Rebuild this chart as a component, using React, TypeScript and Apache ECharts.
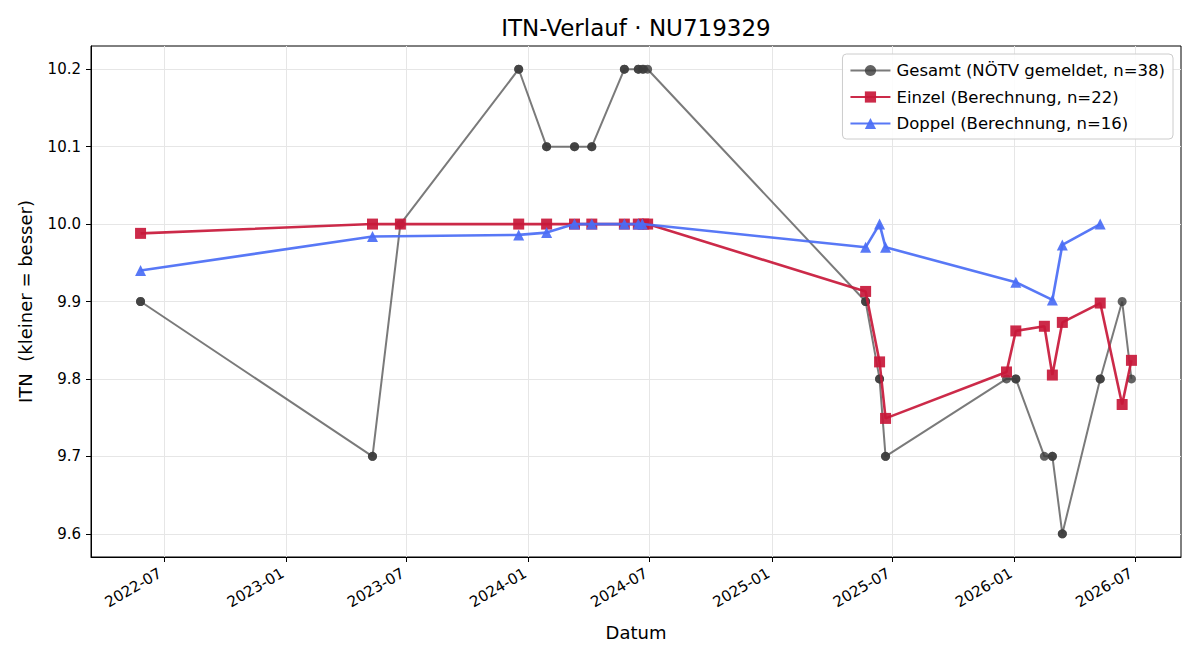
import React, { useEffect, useRef } from "react";
import * as echarts from "echarts";

// NÖTV reported overall ITN, one entry per rated match (38)
const gesamtDates = [
  "2022-05-27", "2022-05-27", "2023-05-11", "2023-05-11", "2023-06-22",
  "2023-12-17", "2023-12-17", "2024-01-28", "2024-01-28", "2024-03-10",
  "2024-03-10", "2024-04-05", "2024-04-05", "2024-05-24", "2024-05-24",
  "2024-06-14", "2024-06-14", "2024-06-20", "2024-06-22", "2024-06-28",
  "2025-05-22", "2025-05-22", "2025-06-12", "2025-06-12", "2025-06-21",
  "2025-06-21", "2025-12-20", "2026-01-03", "2026-01-03", "2026-02-15",
  "2026-02-27", "2026-02-27", "2026-03-14", "2026-03-14", "2026-05-10",
  "2026-05-10", "2026-06-12", "2026-06-26",
];
const gesamtValues = [
  9.9, 9.9, 9.7, 9.7, 10.0,
  10.2, 10.2, 10.1, 10.1, 10.1,
  10.1, 10.1, 10.1, 10.2, 10.2,
  10.2, 10.2, 10.2, 10.2, 10.2,
  9.9, 9.9, 9.8, 9.8, 9.7,
  9.7, 9.8, 9.8, 9.8, 9.7,
  9.7, 9.7, 9.6, 9.6, 9.8,
  9.8, 9.9, 9.8,
];

// Computed singles ITN (22)
const einzelDates = [
  "2022-05-27", "2023-05-11", "2023-06-22", "2023-12-17", "2024-01-28",
  "2024-03-10", "2024-04-05", "2024-05-24", "2024-06-14", "2024-06-22",
  "2024-06-28", "2025-05-22", "2025-06-12", "2025-06-21", "2025-12-20",
  "2026-01-03", "2026-02-15", "2026-02-27", "2026-03-14", "2026-05-10",
  "2026-06-12", "2026-06-26",
];
const einzelValues = [
  9.988, 10.0, 10.0, 10.0, 10.0,
  10.0, 10.0, 10.0, 10.0, 10.0,
  10.0, 9.913, 9.822, 9.749, 9.809,
  9.862, 9.868, 9.805, 9.873, 9.898,
  9.767, 9.824,
];

// Computed doubles ITN (16)
const doppelDates = [
  "2022-05-27", "2023-05-11", "2023-12-17", "2024-01-28", "2024-03-10",
  "2024-04-05", "2024-05-24", "2024-06-14", "2024-06-20", "2025-05-22",
  "2025-06-12", "2025-06-21", "2026-01-03", "2026-02-27", "2026-03-14",
  "2026-05-10",
];
const doppelValues = [
  9.94, 9.984, 9.986, 9.989, 10.0,
  10.0, 10.0, 10.0, 10.0, 9.97,
  10.0, 9.97, 9.925, 9.902, 9.973,
  10.0,
];

const xTickLabels = [
  "2022-07", "2023-01", "2023-07", "2024-01", "2024-07",
  "2025-01", "2025-07", "2026-01", "2026-07",
];
const yTickValues = [9.6, 9.7, 9.8, 9.9, 10.0, 10.1, 10.2];

const FONT = "'DejaVu Sans', sans-serif";

const toMs = (d: string) => {
  const [y, m, dd] = d.split("-").map(Number);
  return Date.UTC(y, m - 1, dd || 1);
};

const pairs = (dates: string[], values: number[]) =>
  dates.map((d, i) => [toMs(d), values[i]]);

export default function App() {
  const ref = useRef<HTMLDivElement>(null);

  useEffect(() => {
    if (!ref.current) return;
    const chart = echarts.init(ref.current, undefined, { renderer: "svg" });

    const allX = [...gesamtDates, ...einzelDates, ...doppelDates].map(toMs);
    const allY = [...gesamtValues, ...einzelValues, ...doppelValues];
    const x0 = Math.min(...allX);
    const x1 = Math.max(...allX);
    const y0 = Math.min(...allY);
    const y1 = Math.max(...allY);
    const xPad = (x1 - x0) * 0.05;
    const yPad = (y1 - y0) * 0.05;

    const xTicks = xTickLabels.map(toMs);
    const gridLine = { show: true, lineStyle: { color: "#e6e6e6", width: 1 } };

    chart.setOption({
      animation: false,
      backgroundColor: "#ffffff",
      textStyle: { fontFamily: FONT },
      graphic: [
        {
          type: "text",
          x: 636,
          y: 28,
          style: {
            text: "ITN-Verlauf · NU719329",
            fontFamily: FONT,
            fontSize: 23,
            fill: "#000",
            textAlign: "center",
            textVerticalAlign: "middle",
          },
        },
      ],
      grid: {
        left: 91,
        right: 19,
        top: 46,
        bottom: 103,
        show: true,
        borderColor: "#000",
        borderWidth: 1,
        backgroundColor: "transparent",
      },
      legend: {
        orient: "vertical",
        right: 27,
        top: 54,
        padding: [8, 8, 7, 7],
        itemGap: 9.5,
        itemWidth: 40,
        itemHeight: 14,
        borderColor: "#cccccc",
        borderWidth: 1,
        borderRadius: 4,
        backgroundColor: "rgba(255,255,255,0.85)",
        textStyle: { fontFamily: FONT, fontSize: 16.5, color: "#000", padding: [0, 0, 0, 1] },
        data: [
          "Gesamt (NÖTV gemeldet, n=38)",
          "Einzel (Berechnung, n=22)",
          "Doppel (Berechnung, n=16)",
        ],
      },
      xAxis: {
        type: "value",
        min: x0 - xPad,
        max: x1 + xPad,
        name: "Datum",
        nameLocation: "middle",
        nameGap: 66,
        nameTextStyle: { fontFamily: FONT, fontSize: 18, color: "#000" },
        axisLine: { show: true, lineStyle: { color: "#000", width: 1 } },
        axisTick: {
          show: true,
          customValues: xTicks,
          length: 5,
          inside: false,
          lineStyle: { color: "#000" },
        },
        axisLabel: {
          customValues: xTicks,
          rotate: 30,
          margin: 13,
          padding: [0, 4, 0, 0],
          fontFamily: FONT,
          fontSize: 15,
          color: "#000",
          formatter: (v: number) => new Date(v).toISOString().slice(0, 7),
        },
        splitLine: { ...gridLine, customValues: xTicks },
      },
      yAxis: {
        type: "value",
        min: y0 - yPad,
        max: y1 + yPad,
        name: "ITN  (kleiner = besser)",
        nameLocation: "middle",
        nameGap: 57,
        nameTextStyle: { fontFamily: FONT, fontSize: 18, color: "#000" },
        axisLine: { show: true, lineStyle: { color: "#000", width: 1 } },
        axisTick: {
          show: true,
          customValues: yTickValues,
          length: 5,
          lineStyle: { color: "#000" },
        },
        axisLabel: {
          customValues: yTickValues,
          margin: 10,
          fontFamily: FONT,
          fontSize: 15,
          color: "#000",
          formatter: (v: number) => v.toFixed(1),
        },
        splitLine: { ...gridLine, customValues: yTickValues },
      },
      series: [
        {
          name: "Gesamt (NÖTV gemeldet, n=38)",
          type: "line",
          data: pairs(gesamtDates, gesamtValues),
          symbol: "circle",
          symbolSize: 9,
          showAllSymbol: true,
          lineStyle: { color: "#555555", width: 2, opacity: 0.78 },
          itemStyle: { color: "#3c3c3c", opacity: 0.8 },
          z: 2,
        },
        {
          name: "Einzel (Berechnung, n=22)",
          type: "line",
          data: pairs(einzelDates, einzelValues),
          symbol: "rect",
          symbolSize: 11,
          showAllSymbol: true,
          lineStyle: { color: "#c8183a", width: 2.6, opacity: 0.92 },
          itemStyle: { color: "#c8183a", opacity: 0.92 },
          z: 3,
        },
        {
          name: "Doppel (Berechnung, n=16)",
          type: "line",
          data: pairs(doppelDates, doppelValues),
          symbol: "triangle",
          symbolSize: 11,
          showAllSymbol: true,
          lineStyle: { color: "#4a6cf5", width: 2.6, opacity: 0.92 },
          itemStyle: { color: "#4a6cf5", opacity: 0.92 },
          z: 4,
        },
      ],
    });

    return () => chart.dispose();
  }, []);

  return <div ref={ref} style={{ width: 1200, height: 660, margin: -8 }} />;
}
